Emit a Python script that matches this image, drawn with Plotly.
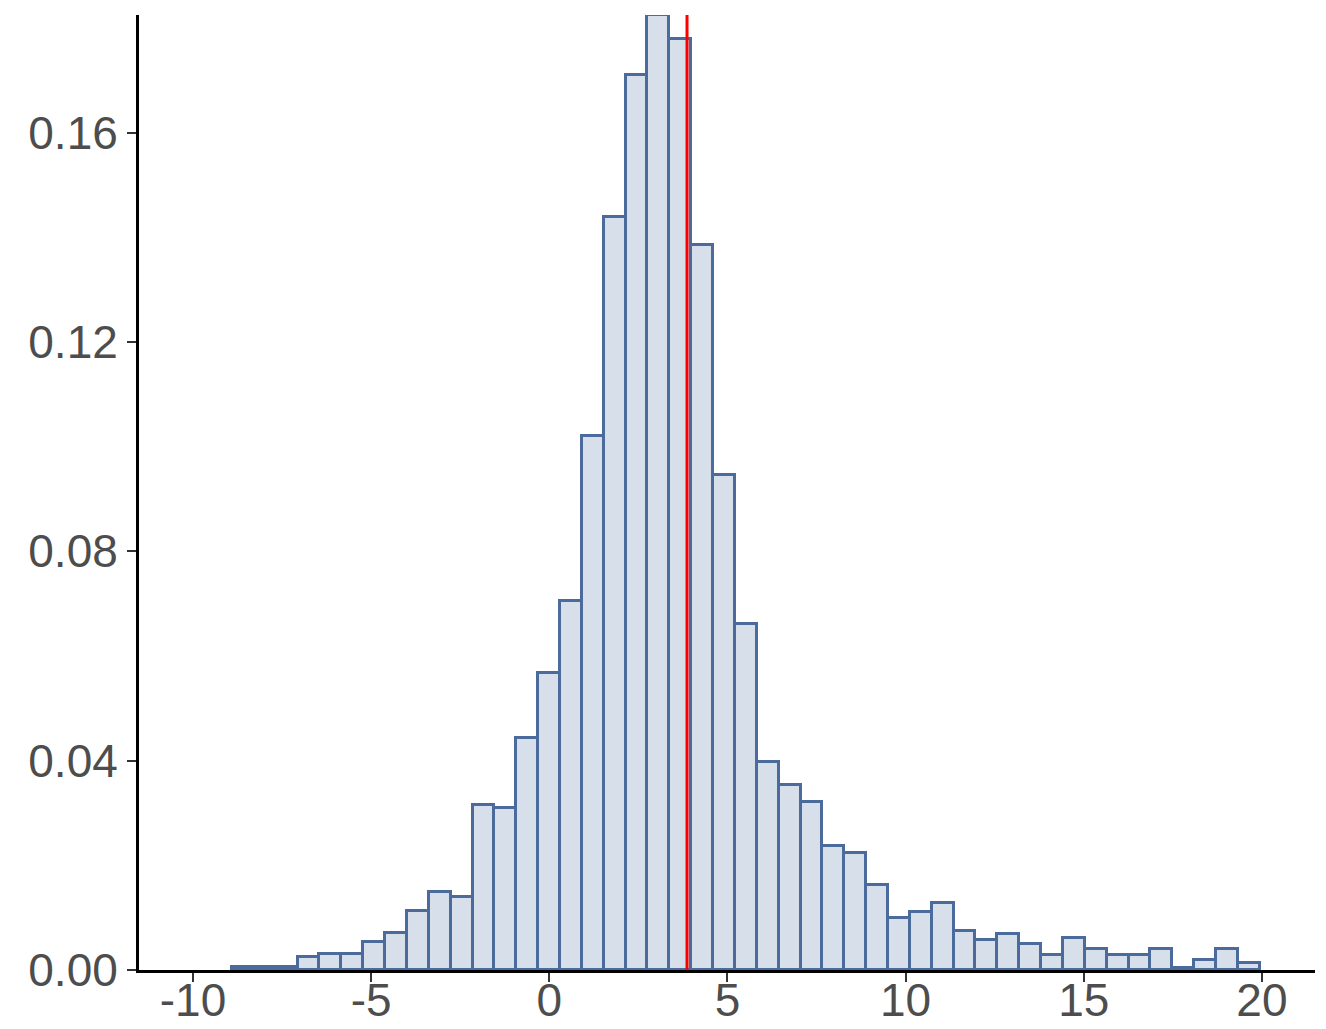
import numpy as np
import plotly.graph_objects as go

# Histogram (density) data
bin_start = -8.905
bin_width = 0.6137
density = [0.0005, 0.0005, 0.0005, 0.0025, 0.003, 0.003, 0.0054, 0.0071, 0.0113, 0.0149,
           0.014, 0.0316, 0.031, 0.0443, 0.0568, 0.0705, 0.1021, 0.1439, 0.171, 0.1825,
           0.1779, 0.1385, 0.0946, 0.0662, 0.0398, 0.0354, 0.0321, 0.0237, 0.0224, 0.0162,
           0.010, 0.011, 0.0128, 0.0075, 0.0057, 0.0069, 0.0049, 0.0029, 0.0061, 0.0041,
           0.0029, 0.0029, 0.004, 0.0004, 0.0019, 0.004, 0.0013]
mean_value = 3.865
x_ticks = [-10, -5, 0, 5, 10, 15, 20]
y_ticks = [0.00, 0.04, 0.08, 0.12, 0.16]

centers = bin_start + bin_width * (np.arange(len(density)) + 0.5)

fig = go.Figure()
fig.add_trace(go.Bar(
    x=centers, y=density, width=bin_width,
    marker=dict(color="#d6dfea", line=dict(color="#4a6b9c", width=3)),
    showlegend=False,
))
fig.add_shape(type="line", x0=mean_value, x1=mean_value, xref="x",
              y0=0, y1=1, yref="paper", line=dict(color="red", width=3))

tickfont = dict(family="Liberation Sans, Arial, sans-serif", size=46, color="#4d4d4d")
fig.update_layout(
    width=1326, height=1029,
    margin=dict(l=139, r=11, t=15, b=59),
    paper_bgcolor="white", plot_bgcolor="white",
    bargap=0,
    xaxis=dict(range=[-11.515, 21.489], tickvals=x_ticks, ticktext=[str(v) for v in x_ticks],
               showgrid=False, zeroline=False, showline=True, linecolor="black", linewidth=3,
               ticks="outside", ticklen=9, tickwidth=2, tickcolor="#333333", tickfont=tickfont,
               automargin=False, ticklabelstandoff=-21),
    yaxis=dict(range=[0, 0.1825], tickvals=y_ticks, tickformat=".2f",
               showgrid=False, zeroline=False, showline=True, linecolor="black", linewidth=3,
               ticks="outside", ticklen=9, tickwidth=2, tickcolor="#333333", tickfont=tickfont,
               automargin=False),
)
fig.write_html(
    "out.html",
    config={"displayModeBar": False},
    post_script="document.body.style.margin='0';document.body.style.overflow='hidden';",
)
